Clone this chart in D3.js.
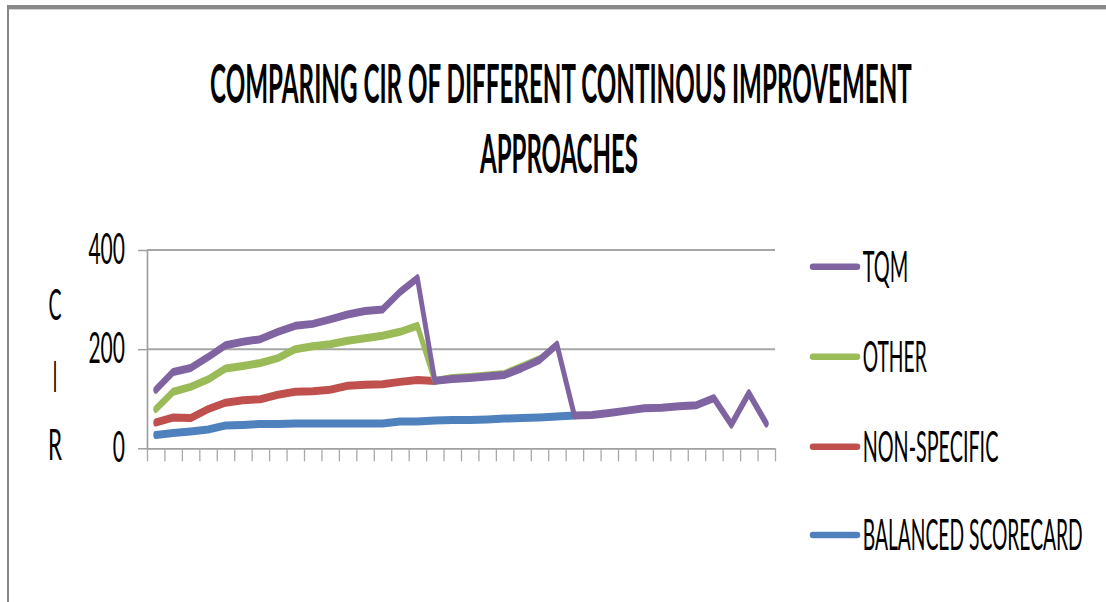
<!DOCTYPE html>
<html>
<head>
<meta charset="utf-8">
<script src="https://cdn.jsdelivr.net/npm/d3@7"></script>
<style>
  body { margin: 0; background: #fff; }
  text { font-family: Lato, "Open Sans", sans-serif; fill: #000; }
</style>
</head>
<body>
<div id="chart"></div>
<script>
// Values (36 points, null = no value)
const categories = d3.range(1, 37);
const seriesNames = ['TQM', 'OTHER', 'NON-SPECIFIC', 'BALANCED SCORECARD'];
const tqm = [118, 154, 162, 184, 208, 215, 220, 235, 247, 251, 260, 270, 277, 280, 315, 343,
             136, 140, 142, 145, 148, 162, 178, 209, 66, 67, 71, 76, 81, 82, 85, 87, 101, 48, 111, 50];
const other = [79, 114, 124, 139, 161, 166, 172, 182, 200, 206, 210, 217, 222, 227, 235, 247,
               136, 142, 144, 147, 150, 165, 180, null, null, null, null, null, null, null, null, null, null, null, null, null];
const nonSpecific = [52, 62, 61, 79, 92, 97, 99, 108, 114, 115, 118, 126, 128, 129, 134, 138,
                     136, null, null, null, null, null, null, null, null, null, null, null, null, null, null, null, null, null, null, null];
const balanced = [27, 31, 34, 38, 46, 47, 49, 49, 50, 50, 50, 50, 50, 50, 54, 54,
                  56, 57, 57, 58, 60, 61, 62, 64, 66, null, null, null, null, null, null, null, null, null, null, null];
const yTicks = [0, 200, 400];
const titleLines = ['COMPARING CIR OF DIFFERENT CONTINOUS IMPROVEMENT', 'APPROACHES'];
const yLabel = ['C', 'I', 'R'];

const colors = ['#8064A2', '#9BBB59', '#C0504D', '#4F81BD'];
const seriesValues = [tqm, other, nonSpecific, balanced];

const width = 1106, height = 602;
const plot = { left: 147, right: 775, top: 250, bottom: 448.3 };
// the reference is squeezed sideways, so lines get drawn in a stretched frame
const squeeze = 0.6;

const svg = d3.select('#chart')
    .append('svg')
    .attr('width', width)
    .attr('height', height);

// put a text at (x, baseline y) and squeeze it sideways to width w
function squeezedText(parent, str, x, yBase, w, size, weight) {
    const g = parent.append('g');
    const t = g.append('text')
        .attr('font-size', size)
        .attr('font-weight', weight || 'normal')
        .text(str);
    const natural = t.node().getComputedTextLength();
    g.attr('transform', `translate(${x},${yBase}) scale(${w / natural},1)`);
    return g;
}

// frame (top and left edges only)
svg.append('rect').attr('x', 7).attr('y', 5).attr('width', width - 7).attr('height', 4).attr('fill', '#888');
svg.append('rect').attr('x', 9).attr('y', 9).attr('width', width - 9).attr('height', 1).attr('fill', '#d4d4d4');
svg.append('rect').attr('x', 7).attr('y', 5).attr('width', 2).attr('height', height - 5).attr('fill', '#888');

// title
const titleBox = [{ x: 210, w: 702, y: 103 }, { x: 480, w: 158, y: 173 }];
titleLines.forEach((t, i) => {
    squeezedText(svg, t, titleBox[i].x, titleBox[i].y, titleBox[i].w, 53, 'bold');
});

// scales
const y = d3.scaleLinear().domain([0, 400]).range([plot.bottom, plot.top]);
const xEdge = d3.scaleLinear().domain([0, categories.length]).range([plot.left, plot.right]);
const xLine = d3.scaleBand()
    .domain(categories)
    .range([plot.left / squeeze, plot.right / squeeze]);

// gridlines
svg.append('g')
    .selectAll('line')
    .data(yTicks.filter(d => d > 0))
    .enter()
    .append('line')
    .attr('x1', plot.left)
    .attr('x2', plot.right)
    .attr('y1', d => y(d))
    .attr('y2', d => y(d))
    .attr('stroke', '#a6a6a6')
    .attr('stroke-width', 2);

// y axis
const yAxis = svg.append('g')
    .attr('transform', `translate(${plot.left},0)`)
    .call(d3.axisLeft(y).tickValues(yTicks).tickSize(9).tickSizeOuter(0).tickFormat(''));
yAxis.select('.domain').attr('stroke', '#a0a0a0').attr('stroke-width', 1.7);
yAxis.selectAll('.tick line').attr('stroke', '#a0a0a0').attr('stroke-width', 1.5);

const yTickLabels = svg.append('g');
yTicks.forEach(d => {
    const w = 12.2 * String(d).length;
    squeezedText(yTickLabels, String(d), 125 - w, y(d) + 14, w, 42);
});

// x axis, ticks on the category boundaries
const xAxis = svg.append('g')
    .attr('transform', `translate(0,${plot.bottom})`)
    .call(d3.axisBottom(xEdge).tickValues(d3.range(0, categories.length + 1)).tickSize(13).tickSizeOuter(0).tickFormat(''));
xAxis.select('.domain').attr('stroke', '#a0a0a0').attr('stroke-width', 1.7);
xAxis.selectAll('.tick line').attr('stroke', '#a8a8a8').attr('stroke-width', 1.3);

// y axis title, one letter per row
const yLabelBase = [320, 392, 460];
const yLabelW = [13, 4.5, 14];
yLabel.forEach((c, i) => {
    squeezedText(svg, c, 55 - yLabelW[i] / 2, yLabelBase[i], yLabelW[i], 42);
});

// lines, drawn bottom series first so TQM ends up on top
const line = d3.line()
    .defined(d => d.v != null)
    .x(d => xLine(d.c) + xLine.bandwidth() / 2)
    .y(d => y(d.v));

const lineGroup = svg.append('g').attr('transform', `scale(${squeeze},1)`);
d3.range(seriesValues.length - 1, -1, -1).forEach(i => {
    const pts = categories.map((c, j) => ({ c: c, v: seriesValues[i][j] }));
    lineGroup.append('path')
        .datum(pts)
        .attr('d', line)
        .attr('fill', 'none')
        .attr('stroke', colors[i])
        .attr('stroke-width', 8)
        .attr('stroke-linejoin', 'round')
        .attr('stroke-linecap', 'round');
});

// legend
const legendY = [266.7, 356.7, 446.7, 535];
const legendW = [45.6, 64, 135.7, 220];
const legend = svg.append('g');
seriesNames.forEach((name, i) => {
    legend.append('line')
        .attr('x1', 813).attr('x2', 857)
        .attr('y1', legendY[i]).attr('y2', legendY[i])
        .attr('stroke', colors[i])
        .attr('stroke-width', 6.5)
        .attr('stroke-linecap', 'round');
    squeezedText(legend, name, 862.7, legendY[i] + 15, legendW[i], 42);
});
</script>
</body>
</html>
